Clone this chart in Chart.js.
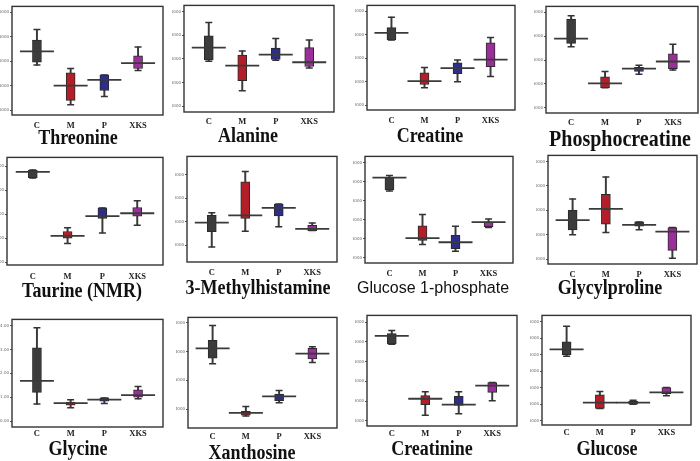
<!DOCTYPE html>
<html>
<head>
<meta charset="utf-8">
<script src="https://cdn.jsdelivr.net/npm/chart.js@4.4.0/dist/chart.umd.min.js"></script>
<style>
body{margin:0;background:#fff;width:700px;height:461px;position:relative;overflow:hidden}
.panel{position:absolute}
.title{position:absolute;font-family:"Liberation Serif","Times New Roman",serif;font-weight:bold;color:#111;white-space:nowrap;line-height:1;transform:translateX(-50%) scaleY(1.12)}
.title.sans{font-family:"Liberation Sans",Arial,sans-serif;font-weight:normal;transform:translateX(-50%)}
</style>
</head>
<body>
<script>
// groups on the x axis
const groups = ['C', 'M', 'P', 'XKS']
const groupColors = ['#3c3c3c', '#b31f29', '#2d2d8a', '#9a2e9a']

const titles = ['Threonine', 'Alanine', 'Creatine', 'Phosphocreatine',
    'Taurine (NMR)', '3-Methylhistamine', 'Glucose 1-phosphate', 'Glycylproline',
    'Glycine', 'Xanthosine', 'Creatinine', 'Glucose']

// one row per panel, one value per group (C, M, P, XKS)
const whiskerHigh = [
    [1.65, 0.85, 0.72, 1.29], [1.77, 1.17, 1.43, 1.40], [1.875, 0.80, 0.96, 1.44], [1.93, 0.76, 0.89, 1.33],
    [1.92, 0.72, 1.13, 1.28], [2.39, 4.15, 2.76, 1.95], [2.17, 1.14, 0.83, 1.02], [2.47, 3.37, 1.53, 1.30],
    [3.91, 0.89, 0.97, 1.45], [0.982, 0.418, 0.53, 0.834], [2.29, 0.74, 0.74, 0.97], [2.87, 0.89, 0.62, 1.01]
]
const boxHigh = [
    [1.43, 0.76, 0.72, 1.11], [1.49, 1.08, 1.23, 1.24], [1.65, 0.69, 0.90, 1.33], [1.86, 0.65, 0.85, 1.13],
    [1.91, 0.64, 1.13, 1.14], [2.28, 3.71, 2.76, 1.85], [2.11, 0.84, 0.59, 0.95], [2.00, 2.66, 1.53, 1.30],
    [3.07, 0.79, 0.97, 1.31], [0.88, 0.384, 0.505, 0.823], [2.21, 0.64, 0.62, 0.97], [2.40, 0.79, 0.59, 1.01]
]
const boxLow = [
    [0.98, 0.20, 0.40, 0.85], [0.98, 0.54, 0.99, 0.84], [1.39, 0.44, 0.67, 0.82], [1.35, 0.42, 0.76, 0.82],
    [1.76, 0.50, 0.91, 0.96], [1.58, 2.15, 2.25, 1.63], [1.79, 0.46, 0.24, 0.82], [1.20, 1.44, 1.36, 0.37],
    [1.20, 0.66, 0.83, 1.00], [0.754, 0.357, 0.459, 0.75], [1.95, 0.41, 0.39, 0.72], [2.01, 0.37, 0.50, 0.82]
]
const whiskerLow = [
    [0.92, 0.11, 0.28, 0.81], [0.95, 0.33, 0.97, 0.81], [1.39, 0.37, 0.50, 0.61], [1.28, 0.42, 0.70, 0.79],
    [1.75, 0.39, 0.61, 0.77], [0.93, 1.60, 1.79, 1.63], [1.76, 0.35, 0.17, 0.80], [1.01, 1.10, 1.21, 0.04],
    [0.71, 0.56, 0.73, 0.93], [0.716, 0.352, 0.444, 0.725], [1.94, 0.14, 0.18, 0.51], [1.96, 0.37, 0.50, 0.76]
]
const centreLine = [
    [1.20, 0.50, 0.62, 0.96], [1.24, 0.86, 1.09, 0.93], [1.54, 0.51, 0.79, 0.97], [1.45, 0.51, 0.82, 0.97],
    [1.88, 0.55, 0.96, 1.02], [1.97, 2.28, 2.60, 1.70], [2.11, 0.52, 0.41, 0.94], [1.60, 2.06, 1.41, 1.13],
    [1.68, 0.75, 0.90, 1.09], [0.823, 0.373, 0.489, 0.786], [2.15, 0.56, 0.41, 0.89], [2.17, 0.55, 0.55, 0.86]
]

// y axis range and tick labels per panel
const yMin = [-0.1, -0.12, -0.104, -0.11, -0.055, 0.29, -0.137, -0.19, -0.25, 0.268, -0.13, -0.13]
const yMax = [2.12, 2.13, 2.125, 2.125, 2.18, 4.79, 2.67, 4.25, 4.26, 1.039, 2.67, 3.2]
const yTicks = [
    [0, 0.5, 1, 1.5, 2], [0, 0.5, 1, 1.5, 2], [0, 0.5, 1, 1.5, 2], [0, 0.5, 1, 1.5, 2],
    [0, 0.5, 1, 1.5, 2], [1, 2, 3, 4], [0, 0.5, 1, 1.5, 2, 2.5], [0, 1, 2, 3, 4],
    [0, 1, 2, 3, 4], [0.4, 0.6, 0.8, 1.0], [0, 0.5, 1, 1.5, 2, 2.5], [0, 0.5, 1, 1.5, 2, 2.5, 3]
]
const yDecimals = [4, 4, 4, 4, 4, 4, 4, 4, 2, 4, 4, 4]

// page layout: plot frame [left, top, right, bottom], gap to group labels, title centre
const frames = [
    [12, 4, 163, 115], [184, 3, 334, 112], [367, 3, 515, 110], [546, 4, 698, 113],
    [7, 155, 163, 265], [187, 154, 337, 262], [365, 154, 513, 263], [548, 153, 697, 264],
    [12, 317, 163, 427], [188, 315, 337, 428], [367, 313, 517, 426], [542, 313, 691, 425]
]
const labelGap = [10, 9, 10, 9, 11, 10, 10, 10, 6, 8, 7, 7]
const titlePos = [[78, 137], [248, 135], [430, 135], [620, 138], [82, 290], [258, 287],
    [433, 288], [610, 287], [78, 448], [252, 452], [432, 448], [607, 448]]

const AXIS_W = 12
const AXIS_H = 20

const framePlugin = {
    id: 'frame',
    beforeDatasetsDraw(chart) {
        const {ctx, chartArea: a} = chart
        ctx.save()
        ctx.strokeStyle = '#333'
        ctx.lineWidth = 1.4
        ctx.strokeRect(a.left, a.top, a.right - a.left, a.bottom - a.top)
        ctx.restore()
    }
}

Chart.defaults.animation = false
Chart.defaults.plugins.legend.display = false
Chart.defaults.plugins.tooltip.enabled = false

function makePanel(p) {
    const [x0, y0, x1, y1] = frames[p]
    const div = document.createElement('div')
    div.className = 'panel'
    div.style.left = (x0 - AXIS_W) + 'px'
    div.style.top = (y0 - 1) + 'px'
    const w = x1 - x0 + AXIS_W + 1
    const h = y1 - y0 + 1 + AXIS_H
    div.style.width = w + 'px'
    div.style.height = h + 'px'
    const canvas = document.createElement('canvas')
    canvas.width = w
    canvas.height = h
    div.appendChild(canvas)
    document.body.appendChild(div)

    const idx = groups.map((g, i) => i)
    new Chart(canvas, {
        type: 'bar',
        data: {
            datasets: [
                {   // whiskers
                    data: idx.map(i => ({x: i, y: [whiskerLow[p][i], whiskerHigh[p][i]]})),
                    backgroundColor: '#3a3a3a',
                    barThickness: 1.3,
                    grouped: false,
                    order: 3
                },
                {   // boxes
                    data: idx.map(i => ({x: i, y: [boxLow[p][i], boxHigh[p][i]]})),
                    backgroundColor: groupColors,
                    borderColor: '#2a2a2a',
                    borderWidth: 1,
                    borderSkipped: false,
                    barThickness: 9,
                    grouped: false,
                    order: 2
                },
                {   // whisker caps
                    type: 'scatter',
                    data: idx.flatMap(i => [{x: i, y: whiskerHigh[p][i]}, {x: i, y: whiskerLow[p][i]}]),
                    pointStyle: 'line',
                    pointRadius: 3.5,
                    pointBorderColor: '#333',
                    pointBorderWidth: 1.5,
                    order: 1
                },
                {   // long horizontal line
                    type: 'scatter',
                    data: idx.map(i => ({x: i, y: centreLine[p][i]})),
                    pointStyle: 'line',
                    pointRadius: 17,
                    pointBorderColor: '#3a3a3a',
                    pointBorderWidth: 1.8,
                    order: 0
                }
            ]
        },
        options: {
            responsive: false,
            layout: {autoPadding: false, padding: {top: 1, right: 1, left: 0, bottom: 0}},
            scales: {
                x: {
                    type: 'linear',
                    offset: false,
                    min: -0.74,
                    max: 3.74,
                    afterBuildTicks: s => { s.ticks = idx.map(i => ({value: i})) },
                    afterFit: s => { s.height = AXIS_H },
                    grid: {display: false, drawTicks: false},
                    border: {display: false},
                    ticks: {
                        callback: v => groups[v] ?? '',
                        padding: labelGap[p] - 4,
                        color: '#222',
                        font: {family: 'Liberation Serif', weight: 'bold', size: 8.5},
                        maxRotation: 0,
                        autoSkip: false
                    }
                },
                y: {
                    min: yMin[p],
                    max: yMax[p],
                    afterBuildTicks: s => { s.ticks = yTicks[p].map(v => ({value: v})) },
                    afterFit: s => { s.width = AXIS_W },
                    grid: {drawOnChartArea: false, drawTicks: true, tickLength: 2, color: '#555'},
                    border: {display: false},
                    ticks: {
                        callback: v => v.toFixed(yDecimals[p]),
                        padding: 1,
                        color: '#666',
                        font: {family: 'DejaVu Sans', size: 4}
                    }
                }
            }
        },
        plugins: [framePlugin]
    })

    const t = document.createElement('div')
    t.className = 'title' + (titles[p] === 'Glucose 1-phosphate' ? ' sans' : '')
    const size = titles[p] === 'Glucose 1-phosphate' ? 16 : (titles[p] === 'Phosphocreatine' ? 20 : 18)
    t.style.fontSize = size + 'px'
    t.style.left = titlePos[p][0] + 'px'
    t.style.top = (titlePos[p][1] - size / 2) + 'px'
    t.textContent = titles[p]
    document.body.appendChild(t)
}

titles.forEach((t, p) => makePanel(p))
</script>
</body>
</html>
